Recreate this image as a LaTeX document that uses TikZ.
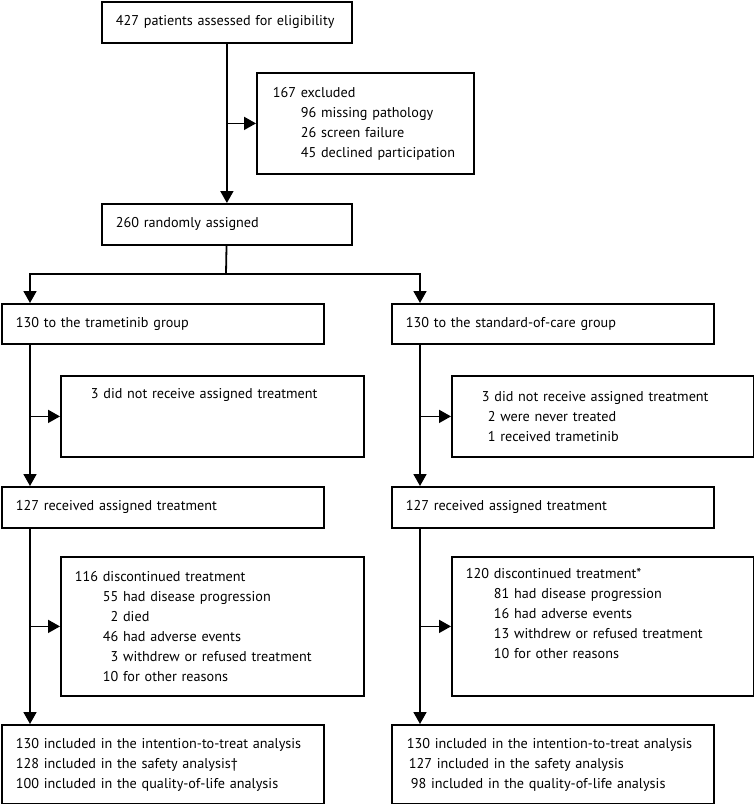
\documentclass[tikz,border=0pt]{standalone}
\usepackage{fontspec}
\setmainfont{PT Sans}
\usetikzlibrary{arrows.meta}

\begin{document}
\begin{tikzpicture}[x=1pt, y=-1pt, line width=1.8pt,
        flowbox/.style={draw, anchor=north west, align=left, inner xsep=14pt, inner ysep=0pt,
            font=\fontsize{14.2}{20}\selectfont},
        arr/.style={-{Triangle[length=12pt, width=13pt]}}]
    \useasboundingbox (0,0) rectangle (754,804);
    % screening
    \node[flowbox, text width=222pt, minimum height=41pt] (assessed) at (101,1) {427 patients assessed for eligibility};
    \node[flowbox, text width=189pt, minimum height=101pt] (excluded) at (256,72)
        {\hspace*{2pt}167 excluded\\ \hspace*{30pt}96 missing pathology\\ \hspace*{30pt}26 screen failure\\ \hspace*{30pt}45 declined participation};
    \node[flowbox, text width=222pt, minimum height=41pt] (randomised) at (101,203) {260 randomly assigned};
    % trametinib group
    \node[flowbox, text width=294pt, minimum height=40pt] (groupT) at (1,303) {130 to the trametinib group};
    \node[flowbox, text width=275pt, minimum height=81pt] (norecT) at (60,375)
        {\hspace*{16pt}3 did not receive assigned treatment\\ \strut\\ \strut};
    \node[flowbox, text width=294pt, minimum height=41pt] (recT) at (1,486) {127 received assigned treatment};
    \node[flowbox, text width=275pt, minimum height=139pt] (discT) at (60,556)
        {116 discontinued treatment\\ \hspace*{28pt}55 had disease progression\\ \hspace*{28pt}\phantom{0}2 died\\
         \hspace*{28pt}46 had adverse events\\ \hspace*{28pt}\phantom{0}3 withdrew or refused treatment\\ \hspace*{28pt}10 for other reasons};
    \node[flowbox, text width=294pt, minimum height=79pt] (analysisT) at (1,724)
        {130 included in the intention-to-treat analysis\\ 128 included in the safety analysis†\\ 100 included in the quality-of-life analysis};
    % standard-of-care group
    \node[flowbox, text width=294pt, minimum height=40pt] (groupS) at (391,303) {130 to the standard-of-care group};
    \node[flowbox, text width=274pt, minimum height=81pt] (norecS) at (451,375)
        {\hspace*{16pt}3 did not receive assigned treatment\\ \hspace*{22pt}2 were never treated\\ \hspace*{22pt}1 received trametinib};
    \node[flowbox, text width=294pt, minimum height=41pt] (recS) at (391,486) {127 received assigned treatment};
    \node[flowbox, text width=274pt, minimum height=139pt] (discS) at (451,556)
        {120 discontinued treatment*\\ \hspace*{28pt}81 had disease progression\\ \hspace*{28pt}16 had adverse events\\
         \hspace*{28pt}13 withdrew or refused treatment\\ \hspace*{28pt}10 for other reasons\\ \strut};
    \node[flowbox, text width=294pt, minimum height=79pt] (analysisS) at (391,724)
        {\hspace*{1pt}130 included in the intention-to-treat analysis\\ \hspace*{3pt}127 included in the safety analysis\\ \hspace*{5pt}98 included in the quality-of-life analysis};

    \draw[arr] (assessed) -- (randomised);
    \draw[arr] (excluded.west -| assessed.south) -- (excluded);
    \coordinate (split) at (226,274);
    \draw (randomised) -- (split);
    \foreach \g in {T,S} {
        \coordinate (col\g) at ([xshift=29pt]group\g.south west);
        \draw[arr] (split) -| ([xshift=29pt]group\g.north west);
        \draw[arr] (col\g) -- ([xshift=29pt]rec\g.north west);
        \draw[arr] (norec\g.west -| col\g) -- (norec\g);
        \draw[arr] ([xshift=29pt]rec\g.south west) -- ([xshift=29pt]analysis\g.north west);
        \draw[arr] (disc\g.west -| col\g) -- (disc\g);
    }
\end{tikzpicture}
\end{document}
